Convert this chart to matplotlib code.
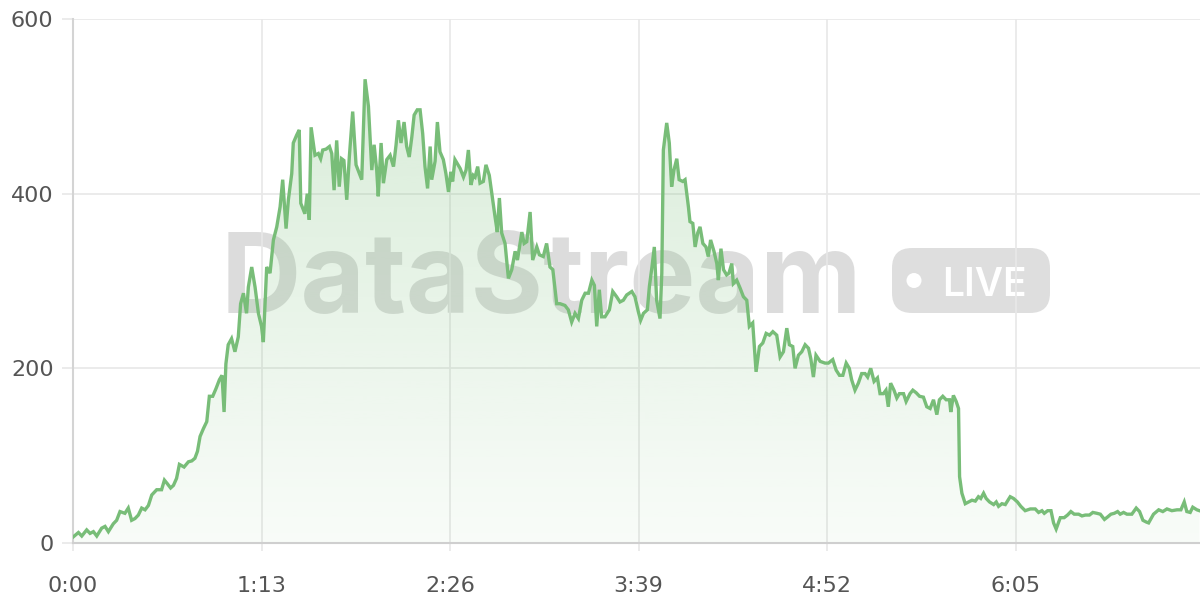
# DataStream live rate chart
import numpy as np
import matplotlib.pyplot as plt
from matplotlib.patches import FancyBboxPatch, Circle, Polygon

# seconds since start
t_sec = [0.1, 2.1, 3.4, 5.3, 6.6, 7.9, 9.2, 11.1, 12.4, 13.7, 15.6, 16.9, 18.2, 20.1, 21.4, 22.7, 24.0,
         25.3, 26.6, 27.9, 29.2, 30.5, 32.4, 34.3, 35.4, 36.5, 37.8, 38.9, 40.1, 41.2, 43.0, 44.7, 46.0,
         47.2, 48.2, 49.2, 50.5, 51.8, 52.8, 54.1, 55.4, 56.7, 57.7, 58.5,
         59.2, 60.1, 61.4, 62.7, 64.0, 64.9, 66.0, 67.2, 67.9, 69.2, 70.5, 71.8, 73.0, 73.7, 75.0, 76.3,
         77.6, 78.9, 80.2, 81.2, 82.5, 83.4, 84.7, 85.3, 86.6, 87.6, 88.2, 89.8, 90.7, 91.5, 92.2, 93.7,
         95.0, 95.9, 96.7, 98.0, 99.3, 100.2, 101.1, 102.1, 103.1, 104.0, 104.9, 106.0, 107.0, 108.3,
         109.6, 110.9, 111.8, 113.1, 114.4, 115.7, 116.6, 117.6, 118.2,
         119.3, 120.2, 121.5, 122.8, 124.1, 125.1, 126.0, 127.0, 128.2, 129.2, 130.2, 131.2, 132.1, 133.3,
         134.4, 135.4, 136.3, 137.3, 138.3, 138.9, 140.2, 141.1, 142.1, 143.4, 144.4, 145.4, 146.3, 147.0,
         147.9, 149.9, 151.2, 152.2, 153.1, 154.1, 155.0, 155.7, 156.7, 157.6, 158.9, 159.9, 161.2, 162.5,
         163.4, 164.3, 165.1, 166.0, 167.3, 168.6, 169.9, 171.2, 172.1, 173.8, 174.7, 175.7, 177.0, 178.0,
         179.6, 180.6, 182.1, 183.4, 184.7, 185.8, 187.3,
         188.6, 190.5, 191.8, 193.1, 194.4, 195.7, 197.0, 198.3, 199.6, 200.9, 201.9, 202.8, 203.8, 204.7,
         206.0, 207.7, 209.0, 210.5, 211.8, 213.1, 214.4, 216.4, 217.6, 218.9, 219.8, 220.9, 222.4, 223.2,
         224.1, 225.1, 226.0, 227.3, 228.0, 228.6, 229.9, 230.9, 231.8, 232.7, 233.8, 234.7, 236.1, 237.0,
         238.3, 238.9, 240.0, 240.9, 241.9, 242.8, 243.9, 245.1, 246.0, 246.9, 248.2, 249.3, 249.9, 250.9,
         251.9, 253.1, 254.0, 255.1, 255.7, 257.0, 258.3,
         259.6, 260.9, 261.9, 263.2, 264.5, 265.8, 267.1, 268.4, 269.7, 271.0, 272.5, 273.8, 275.1, 276.4,
         277.4, 278.7, 279.6, 280.9, 282.2, 283.5, 284.8, 285.7, 286.7, 287.7, 289.3, 291.2, 292.5, 294.2,
         295.5, 296.8, 298.1, 299.4, 300.6, 301.5, 302.8, 304.1, 305.4, 306.7, 307.7, 308.9, 310.2, 311.5,
         312.5, 313.8, 314.8, 315.7, 316.6, 317.9, 319.0, 320.0, 321.6, 322.6, 324.1, 325.2, 326.5, 327.8,
         329.3, 330.6, 331.9, 333.2, 334.5, 335.5, 336.8, 338.1, 339.4, 339.9, 340.9, 342.0, 342.9,
         343.3, 344.2, 345.5, 346.8, 348.1, 349.4, 350.6, 351.5, 352.6, 353.6, 354.9, 356.5, 357.5, 358.4,
         359.7, 361.0, 362.9, 364.2, 365.7, 367.0, 368.7, 370.7, 372.6, 373.9, 375.2, 376.1, 377.4, 378.7,
         379.7, 380.7, 382.3, 383.8, 385.1, 386.4, 387.7, 389.4, 390.7, 392.0, 393.6, 394.9, 396.5, 397.8,
         399.4, 400.7, 401.9, 403.2, 404.5, 405.5, 406.8, 408.1, 410.0, 411.7, 413.0, 414.3, 415.6, 416.5,
         418.4, 420.4, 422.0, 423.6, 425.5, 427.5, 429.0, 430.3, 431.3, 432.6, 433.6, 435.2, 436.2]

rate = [7, 12, 8, 15, 11, 13, 8, 17, 19, 13, 22, 26, 36, 34, 40, 26, 28,
        32, 40, 38, 43, 55, 61, 61, 72, 68, 63, 66, 74, 90, 87, 93, 94,
        97, 105, 122, 131, 139, 168, 168, 177, 187, 192, 150,
        205, 227, 234, 219, 236, 274, 286, 263, 293, 316, 293, 263, 248, 230, 316, 309,
        347, 362, 385, 416, 360, 393, 423, 458, 467, 473, 389, 377, 400, 370, 476, 444,
        446, 440, 450, 451, 454, 446, 404, 461, 408, 440, 438, 393, 442, 494,
        433, 423, 416, 531, 500, 427, 456, 427, 397,
        458, 412, 439, 444, 431, 456, 484, 458, 482, 454, 442, 465, 490, 496,
        496, 469, 431, 406, 454, 416, 437, 482, 448, 439, 423, 402, 425, 414,
        439, 429, 419, 427, 450, 410, 421, 419, 431, 412, 414, 433, 421, 393,
        374, 356, 395, 355, 343, 303, 313, 334, 324, 356, 343, 345, 379, 324,
        339, 330, 328, 343, 316, 313, 274,
        274, 272, 267, 253, 263, 257, 278, 286, 286, 301, 295, 248, 290, 259,
        259, 267, 288, 282, 276, 278, 284, 288, 282, 265, 255, 263, 267, 294,
        314, 339, 278, 257, 309, 450, 481, 458, 408, 427, 440, 416, 414, 416,
        385, 368, 366, 339, 355, 362, 343, 339, 328, 347, 334, 320, 301, 337,
        313, 307, 309, 320, 297, 301, 292,
        282, 278, 248, 252, 196, 225, 229, 240, 238, 242, 238, 213, 219, 246,
        227, 225, 200, 215, 219, 227, 223, 211, 190, 215, 208, 206, 206, 210,
        198, 192, 192, 206, 200, 187, 175, 183, 194, 194, 190, 200, 185, 189,
        171, 171, 175, 156, 183, 175, 166, 171, 171, 162, 171, 175, 172, 168,
        167, 156, 154, 164, 147, 164, 168, 164, 164, 150, 169, 162, 154,
        76, 57, 45, 47, 49, 48, 53, 51, 57, 51, 47, 44, 47, 42,
        45, 44, 53, 51, 47, 42, 37, 39, 39, 35, 37, 34, 37, 37,
        23, 16, 29, 29, 32, 36, 33, 33, 31, 32, 32, 35, 34, 33,
        27, 30, 33, 34, 36, 33, 35, 33, 33, 40, 36, 26, 24, 23,
        33, 38, 36, 39, 37, 38, 38, 47, 36, 35, 41, 38, 37]

x_ticks = [0, 73, 146, 219, 292, 365]
x_labels = ['0:00', '1:13', '2:26', '3:39', '4:52', '6:05']
y_ticks = [0, 200, 400, 600]

line_col = '#78bd78'

fig = plt.figure(figsize=(12, 6), dpi=100)

# background layer for the watermark (pixel coords)
bg = fig.add_axes([0, 0, 1, 1], zorder=0)
bg.set_xlim(0, 1200)
bg.set_ylim(600, 0)
bg.axis('off')
bg.text(541, 313, 'DataStream', fontsize=80, fontweight='bold', family=['Inter', 'Liberation Sans'],
        color='#c4c4c4', alpha=0.58, ha='center', va='baseline')
bg.add_patch(FancyBboxPatch((912, 268), 118, 25, boxstyle='round,pad=20',
                            fc='#c4c4c4', ec='none', alpha=0.55))
bg.add_patch(Circle((914, 280.5), 7.5, fc='white', ec='none'))
bg.text(984, 296, 'LIVE', fontsize=28, fontweight='semibold', family=['Inter', 'Liberation Sans'],
        color='white', ha='center', va='baseline')

ax = fig.add_axes([73 / 1200, 57 / 600, 1127 / 1200, 524 / 600], zorder=1)
ax.patch.set_visible(False)

t = np.array(t_sec)
v = np.array(rate)

# gradient fill under the line
top = 600
grad = np.linspace(0.32, 0.05, 256).reshape(-1, 1)
rgba = np.zeros((256, 1, 4))
rgba[..., 0] = 0x7c / 255
rgba[..., 1] = 0xc0 / 255
rgba[..., 2] = 0x7c / 255
rgba[..., 3] = grad
img = ax.imshow(rgba, extent=[t[0], t[-1], 0, top], aspect='auto', origin='upper', zorder=2)
poly = Polygon(np.column_stack([np.r_[t[0], t, t[-1]], np.r_[0, v, 0]]), closed=True,
               fc='none', ec='none', transform=ax.transData)
ax.add_patch(poly)
img.set_clip_path(poly)

ax.plot(t, v, color=line_col, lw=2.4, zorder=3, solid_joinstyle='miter')

ax.set_xlim(0, 436.4)
ax.set_ylim(0, 600)
ax.set_xticks(x_ticks)
ax.set_xticklabels(x_labels)
ax.set_yticks(y_ticks)
ax.grid(True, color='#e8e8e8', lw=1.2, zorder=1)
ax.set_axisbelow(True)

for s in ['top', 'right']:
    ax.spines[s].set_visible(False)
ax.spines['left'].set_color('#d4d4d4')
ax.spines['bottom'].set_color('#cfcfcf')
ax.spines['left'].set_linewidth(1.5)
ax.spines['bottom'].set_linewidth(1.5)

ax.tick_params(axis='x', length=6, width=1.2, color='#e8e8e8', pad=18, labelsize=16, labelcolor='#555555')
ax.tick_params(axis='y', length=8, width=1.2, color='#e8e8e8', pad=6, labelsize=16, labelcolor='#555555')

fig.savefig('out.png', dpi=100)
